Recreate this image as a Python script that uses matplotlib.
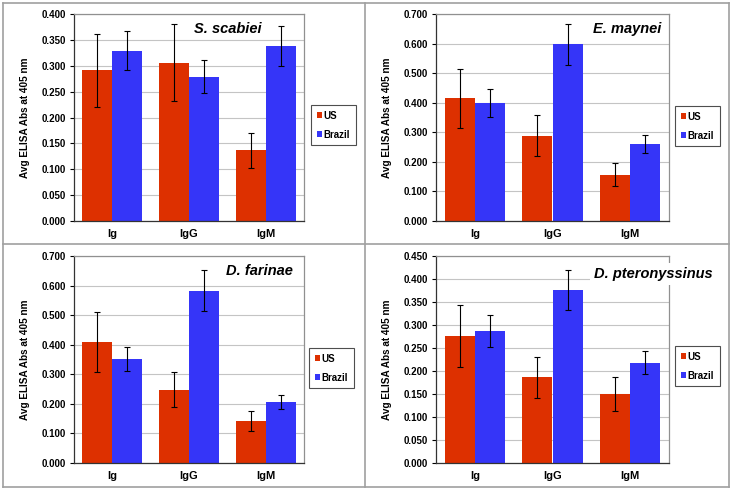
import numpy as np
import matplotlib
matplotlib.use("Agg")
import matplotlib.pyplot as plt
from matplotlib.lines import Line2D

plt.rcParams['font.family'] = ['Liberation Sans', 'DejaVu Sans']
plt.rcParams['font.weight'] = 'bold'

# ---- dane ----
categories = ["Ig", "IgG", "IgM"]
species = ["S. scabiei", "E. maynei", "D. farinae", "D. pteronyssinus"]

us_scab = [0.291, 0.306, 0.137]
us_mayn = [0.415, 0.288, 0.156]
us_far = [0.409, 0.248, 0.142]
us_pter = [0.276, 0.186, 0.150]

br_scab = [0.329, 0.279, 0.338]
br_mayn = [0.398, 0.598, 0.261]
br_far = [0.351, 0.583, 0.205]
br_pter = [0.287, 0.376, 0.218]

us_err_scab = [0.071, 0.074, 0.034]
us_err_mayn = [0.100, 0.069, 0.039]
us_err_far = [0.100, 0.060, 0.035]
us_err_pter = [0.067, 0.045, 0.036]

br_err_scab = [0.038, 0.032, 0.039]
br_err_mayn = [0.047, 0.069, 0.030]
br_err_far = [0.041, 0.068, 0.024]
br_err_pter = [0.034, 0.044, 0.025]

ymax = [0.4, 0.7, 0.7, 0.45]
ystep = [0.05, 0.1, 0.1, 0.05]

US_COL = "#dd3000"
BR_COL = "#3535f8"

W, H = 733, 490
fig = plt.figure(figsize=(W / 100, H / 100), dpi=100)


def px_box(l, t, r, b):
    return [l / W, 1 - b / H, (r - l) / W, (b - t) / H]


# ramki paneli
frame = "#a0a0a0"
for x in [3, 365, 729]:
    fig.add_artist(Line2D([x / W, x / W], [1 - 3 / H, 1 - 487 / H], color=frame, lw=1.2))
for y in [3, 244, 487]:
    fig.add_artist(Line2D([3 / W, 729 / W], [1 - y / H, 1 - y / H], color=frame, lw=1.2))

axes_px = [(74, 14, 304, 221), (436, 14, 669, 221), (74, 256, 304, 463), (436, 256, 669, 463)]
legend_px = [(311, 105), (675, 106), (309, 348), (675, 346)]

us_all = [us_scab, us_mayn, us_far, us_pter]
br_all = [br_scab, br_mayn, br_far, br_pter]
us_err_all = [us_err_scab, us_err_mayn, us_err_far, us_err_pter]
br_err_all = [br_err_scab, br_err_mayn, br_err_far, br_err_pter]

x = np.arange(len(categories))
bw = 0.39

for i in range(4):
    ax = fig.add_axes(px_box(*axes_px[i]))
    ekw = dict(ecolor="black", elinewidth=0.8, capsize=2.4, capthick=0.8)
    ax.bar(x - bw / 2, us_all[i], bw, color=US_COL, label="US", zorder=2,
           yerr=us_err_all[i], error_kw=ekw)
    ax.bar(x + bw / 2, br_all[i], bw, color=BR_COL, label="Brazil", zorder=2,
           yerr=br_err_all[i], error_kw=ekw)
    ax.set_xlim(-0.5, 2.5)
    ax.set_ylim(0, ymax[i])
    ticks = np.arange(0, ymax[i] + 1e-9, ystep[i])
    ax.set_yticks(ticks)
    ax.set_yticklabels(["%.3f" % t for t in ticks], fontsize=7, fontweight='bold')
    ax.set_xticks(x)
    ax.set_xticklabels(categories, fontsize=8, fontweight='bold')
    ax.tick_params(axis='x', length=0, pad=6)
    ax.tick_params(axis='y', length=3, width=0.8, direction='out', pad=3)
    ax.yaxis.grid(True, color="#c4c4c4", lw=0.8, zorder=0)
    ax.set_axisbelow(True)
    for s in ['top', 'right']:
        ax.spines[s].set_color("#909090")
        ax.spines[s].set_linewidth(0.9)
    for s in ['left', 'bottom']:
        ax.spines[s].set_color("#333333")
        ax.spines[s].set_linewidth(0.9)
    ax.set_ylabel("Avg ELISA Abs at 405 nm", fontsize=7.2, fontweight='bold', labelpad=8)

    lx, ly = legend_px[i]
    leg = ax.legend(loc='upper left', bbox_to_anchor=(lx / W, 1 - ly / H),
                    bbox_transform=fig.transFigure, fontsize=7, frameon=True,
                    fancybox=False, edgecolor="#222222", handlelength=0.5,
                    handleheight=0.6, handletextpad=0.2, labelspacing=0.9,
                    borderpad=0.6, borderaxespad=0)
    leg.get_frame().set_linewidth(0.8)
    for t in leg.get_texts():
        t.set_fontweight('bold')

# nazwy gatunkow
fig.text(228 / W, 1 - 29 / H, species[0], ha='center', va='center',
         fontsize=10.5, fontweight='bold', style='italic')
fig.text(661 / W, 1 - 29 / H, species[1], ha='right', va='center',
         fontsize=10.5, fontweight='bold', style='italic')
fig.text(293 / W, 1 - 271 / H, species[2], ha='right', va='center',
         fontsize=10.5, fontweight='bold', style='italic')
fig.text(713 / W, 1 - 274 / H, species[3], ha='right', va='center',
         fontsize=10.5, fontweight='bold', style='italic', zorder=10,
         bbox=dict(facecolor='white', edgecolor='none', pad=3))

fig.savefig("out.png", dpi=100)
